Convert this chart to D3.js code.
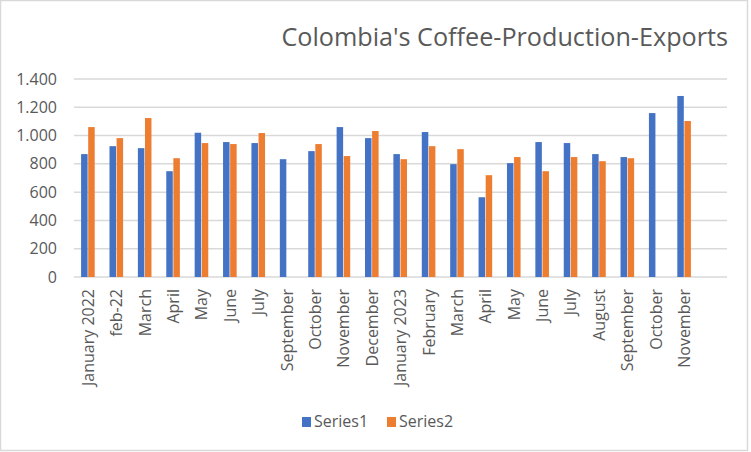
<!DOCTYPE html>
<html>
<head>
  <meta charset="utf-8">
  <script src="https://cdn.jsdelivr.net/npm/d3@7"></script>
  <style>
    body {margin: 0; background: #fff;}
    text {font-family: "Open Sans", "Noto Sans", sans-serif; fill: #595959;}
  </style>
</head>
<body>
  <script>
    // month labels as they appear in the sheet (last row is empty)
    var labels = ["January 2022", "feb-22", "March", "April", "May", "June", "July",
                  "September", "October", "November", "December", "January 2023",
                  "February", "March", "April", "May", "June", "July", "August",
                  "September", "October", "November", ""];
    var series1 = [869, 925, 911, 748, 1020, 954, 947, 833, 890, 1060, 982, 869,
                   1025, 798, 564, 805, 954, 947, 869, 848, 1159, 1280, null];
    var series2 = [1060, 982, 1124, 840, 947, 940, 1018, null, 940, 855, 1032, 833,
                   925, 904, 720, 848, 748, 848, 819, 840, null, 1103, null];
    var seriesNames = ["Series1", "Series2"];
    var colors = ["#4472C4", "#ED7D31"];
    var yTicks = [0, 200, 400, 600, 800, 1000, 1200, 1400];

    var width = 751, height = 452;
    var plot = {left: 74, right: 727, top: 79, bottom: 277};

    var svg = d3.select("body").append("svg")
        .attr("width", width)
        .attr("height", height);

    // chart frame
    svg.append("rect")
        .attr("x", 0.5).attr("y", 0.5)
        .attr("width", 747).attr("height", 450)
        .attr("fill", "#fff")
        .attr("stroke", "#d9d9d9")
        .attr("stroke-width", 1.5);

    var x0 = d3.scaleBand()
        .domain(d3.range(labels.length))
        .range([plot.left, plot.right])
        .paddingInner(0.5)
        .paddingOuter(0.25);

    var x1 = d3.scaleBand()
        .domain([0, 1])
        .range([0, x0.bandwidth()]);

    var y = d3.scaleLinear().domain([0, 1400]).range([plot.bottom, plot.top]);

    // gridlines
    svg.append("g").selectAll("line").data(yTicks).enter().append("line")
        .attr("x1", plot.left).attr("x2", plot.right)
        .attr("y1", d => y(d)).attr("y2", d => y(d))
        .attr("stroke", "#d9d9d9")
        .attr("stroke-width", 1.5);

    // y axis labels
    var yAxis = d3.axisLeft(y).tickValues(yTicks)
        .tickFormat(d => d3.format(",")(d).replace(",", "."))
        .tickSize(0).tickPadding(17);
    var gy = svg.append("g")
        .attr("transform", "translate(" + plot.left + ",0)")
        .call(yAxis);
    gy.select(".domain").remove();
    gy.selectAll("text").style("font-size", "16px").attr("fill", "#595959");

    // bars
    var allSeries = [series1, series2];
    allSeries.forEach(function (vals, s) {
      svg.append("g").selectAll("rect")
        .data(vals.map((v, i) => ({i: i, v: v})).filter(d => d.v != null))
        .enter().append("rect")
        .attr("x", d => x0(d.i) + x1(s))
        .attr("width", x1.bandwidth() - 0.6)
        .attr("y", d => y(d.v))
        .attr("height", d => y(0) - y(d.v))
        .attr("fill", colors[s]);
    });

    // x axis labels
    var xAxis = d3.axisBottom(x0).tickFormat(i => labels[i]).tickSize(0).tickPadding(12);
    var gx = svg.append("g")
        .attr("transform", "translate(0," + plot.bottom + ")")
        .call(xAxis);
    gx.select(".domain").remove();
    gx.selectAll("text")
        .style("font-size", "16px")
        .attr("fill", "#595959")
        .attr("transform", "rotate(-90)")
        .attr("x", -12)
        .attr("y", 0)
        .attr("dy", "0.35em")
        .style("text-anchor", "end");

    // title
    svg.append("text")
        .attr("x", 728).attr("y", 46)
        .style("text-anchor", "end")
        .style("font-size", "25.2px")
        .text("Colombia's Coffee-Production-Exports");

    // legend
    var legend = svg.append("g").selectAll("g").data(seriesNames).enter().append("g")
        .attr("transform", (d, i) => "translate(" + (302 + i * 85) + ",417)");
    legend.append("rect")
        .attr("width", 9).attr("height", 10)
        .attr("fill", (d, i) => colors[i]);
    legend.append("text")
        .attr("x", 12).attr("y", 10)
        .style("font-size", "16px")
        .text(d => d);
  </script>
</body>
</html>
